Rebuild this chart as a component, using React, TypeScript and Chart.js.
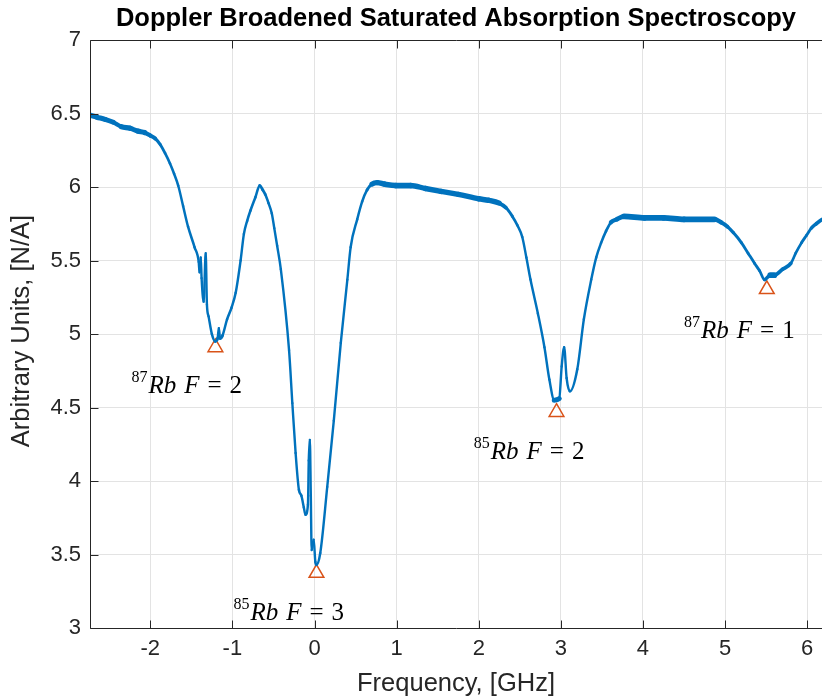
import React, { useEffect, useRef } from 'react';
import { Chart, registerables } from 'chart.js';

Chart.register(...registerables);

const freqGHz = [
  -2.74, -2.65, -2.55, -2.45, -2.35, -2.25, -2.15, -2.07, -2.0, -1.94, -1.88, -1.82,
  -1.76, -1.71, -1.66, -1.6, -1.54, -1.46, -1.41, -1.4, -1.385, -1.375, -1.35, -1.325,
  -1.31, -1.29, -1.25, -1.21, -1.18, -1.165, -1.15, -1.12, -1.065, -1.01, -0.96, -0.9,
  -0.86, -0.82, -0.78, -0.72, -0.667, -0.63, -0.6, -0.56, -0.52, -0.49, -0.455, -0.41,
  -0.31, -0.27, -0.23, -0.19, -0.16, -0.13, -0.11, -0.08, -0.07, -0.057, -0.045, -0.035,
  -0.01, 0.01, 0.024, 0.07, 0.155, 0.235, 0.32, 0.4, 0.44, 0.52, 0.58, 0.64,
  0.7, 0.765, 0.85, 0.99, 1.17, 1.35, 1.54, 1.75, 2.0, 2.12, 2.25, 2.33,
  2.41, 2.47, 2.53, 2.58, 2.63, 2.72, 2.8, 2.86, 2.92, 2.98, 3.01, 3.04,
  3.07, 3.11, 3.2, 3.28, 3.37, 3.43, 3.49, 3.55, 3.61, 3.68, 3.77, 4.02,
  4.25, 4.5, 4.7, 4.87, 4.95, 5.03, 5.1, 5.2, 5.28, 5.36, 5.42, 5.48,
  5.55, 5.6, 5.7, 5.8, 5.86, 5.93, 5.99, 6.05, 6.11, 6.18,
];
const signal = [
  6.49, 6.475, 6.46, 6.44, 6.41, 6.4, 6.38, 6.37, 6.35, 6.33, 6.29, 6.23,
  6.16, 6.09, 6.01, 5.87, 5.73, 5.59, 5.49, 5.42, 5.52, 5.38, 5.22, 5.55,
  5.2, 5.12, 5.0, 4.95, 4.97, 5.04, 4.97, 4.99, 5.1, 5.18, 5.28, 5.5,
  5.68, 5.77, 5.84, 5.93, 6.01, 5.98, 5.95, 5.89, 5.82, 5.72, 5.6, 5.44,
  4.89, 4.53, 4.19, 3.94, 3.9, 3.82, 3.77, 3.84, 4.14, 4.28, 3.9, 3.53,
  3.6, 3.45, 3.43, 3.51, 3.96, 4.41, 4.94, 5.37, 5.59, 5.78, 5.9, 5.98,
  6.02, 6.03, 6.02, 6.01, 6.01, 5.99, 5.97, 5.95, 5.92, 5.91, 5.89, 5.86,
  5.8, 5.74, 5.66, 5.52, 5.37, 5.14, 4.91, 4.69, 4.55, 4.56, 4.78, 4.91,
  4.7, 4.61, 4.76, 5.1, 5.37, 5.52, 5.62, 5.7, 5.76, 5.78, 5.8, 5.79,
  5.79, 5.78, 5.78, 5.78, 5.76, 5.73, 5.69, 5.62, 5.55, 5.48, 5.43, 5.37,
  5.4, 5.4, 5.44, 5.48, 5.55, 5.62, 5.67, 5.72, 5.75, 5.78,
];

// Detected dips (triangle markers)
const peakFreq = [-1.207, 0.024, 2.947, 5.508];
const peakSignal = [4.909, 3.374, 4.468, 5.304];

// Annotation labels
const labelIsotope = ['87', '85', '85', '87'];
const labelF = ['2', '3', '2', '1'];
const labelFreq = [-2.229, -0.988, 1.939, 4.5];
const labelSignal = [4.653, 3.109, 4.204, 5.027];

const titleText = 'Doppler Broadened Saturated Absorption Spectroscopy';
const xLabel = 'Frequency, [GHz]';
const yLabel = 'Arbitrary Units, [N/A]';

const SANS = '"Liberation Sans", Arial, Helvetica, sans-serif';
const SERIF = '"Liberation Serif", "Times New Roman", serif';

const decorPlugin = {
  id: 'decor',
  afterDraw(chart: any) {
    const { ctx, chartArea: a, scales } = chart;
    const xs = scales.x;
    const ys = scales.y;
    ctx.save();
    // axes box and inward ticks
    ctx.strokeStyle = '#262626';
    ctx.lineWidth = 1;
    const L = Math.round(a.left) + 0.5;
    const B = Math.round(a.bottom) + 0.5;
    const T = Math.round(a.top) + 0.5;
    const R = Math.round(a.right) + 0.5;
    ctx.beginPath();
    ctx.moveTo(L, T);
    ctx.lineTo(L, B);
    ctx.lineTo(R, B);
    ctx.moveTo(L, T);
    ctx.lineTo(R, T);
    ctx.stroke();
    ctx.beginPath();
    xs.ticks.forEach((t: any) => {
      const px = Math.round(xs.getPixelForValue(t.value)) + 0.5;
      ctx.moveTo(px, B);
      ctx.lineTo(px, B - 8);
      ctx.moveTo(px, T);
      ctx.lineTo(px, T + 8);
    });
    ys.ticks.forEach((t: any) => {
      const py = Math.round(ys.getPixelForValue(t.value)) + 0.5;
      ctx.moveTo(L, py);
      ctx.lineTo(L + 8, py);
    });
    ctx.stroke();

    // title
    ctx.fillStyle = '#000';
    ctx.font = `bold 25.5px ${SANS}`;
    ctx.textAlign = 'center';
    ctx.textBaseline = 'middle';
    ctx.fillText(titleText, (a.left + a.right) / 2, 19);

    // axis labels
    ctx.fillStyle = '#262626';
    ctx.font = `25.5px ${SANS}`;
    ctx.fillText(xLabel, (a.left + a.right) / 2, 684);
    ctx.save();
    ctx.translate(22, (a.top + a.bottom) / 2 - 3);
    ctx.rotate(-Math.PI / 2);
    ctx.fillText(yLabel, 0, 0);
    ctx.restore();

    // annotations
    ctx.fillStyle = '#000';
    ctx.textAlign = 'left';
    ctx.textBaseline = 'alphabetic';
    for (let i = 0; i < labelFreq.length; i++) {
      let px = xs.getPixelForValue(labelFreq[i]);
      const base = ys.getPixelForValue(labelSignal[i]) + 8;
      ctx.font = `16px ${SERIF}`;
      ctx.fillText(labelIsotope[i], px, base - 11);
      px += ctx.measureText(labelIsotope[i]).width + 1;
      ctx.font = `italic 25px ${SERIF}`;
      ctx.fillText('Rb', px, base);
      px += ctx.measureText('Rb').width + 8;
      ctx.fillText('F', px, base);
      px += ctx.measureText('F').width + 8;
      ctx.font = `25px ${SERIF}`;
      ctx.fillText('=', px, base);
      px += ctx.measureText('=').width + 8;
      ctx.fillText(labelF[i], px, base);
    }
    ctx.restore();
  },
};

export default function App() {
  const ref = useRef<HTMLCanvasElement | null>(null);
  useEffect(() => {
    if (!ref.current) return;
    const curve = freqGHz.map((f, i) => ({ x: f, y: signal[i] }));
    const peaks = peakFreq.map((f, i) => ({ x: f, y: peakSignal[i] }));
    const chart = new Chart(ref.current, {
      type: 'line',
      data: {
        datasets: [
          {
            data: curve,
            borderColor: '#0072BD',
            borderWidth: 2.5,
            pointRadius: 0,
            cubicInterpolationMode: 'monotone',
            borderJoinStyle: 'round',
            borderCapStyle: 'round',
            segment: {
              borderWidth: (c: any) => {
                const dx = Math.abs(c.p1.x - c.p0.x) || 0.001;
                const s = Math.abs(c.p1.y - c.p0.y) / dx;
                return 2.4 + 3.3 / (1 + (s / 0.6) * (s / 0.6));
              },
            },
          } as any,
          {
            data: peaks,
            showLine: false,
            pointStyle: 'triangle',
            pointRadius: 8.5,
            borderColor: '#D95319',
            backgroundColor: 'rgba(0,0,0,0)',
            borderWidth: 1.5,
          } as any,
        ],
      },
      options: {
        responsive: false,
        animation: false,
        devicePixelRatio: 1,
        layout: { autoPadding: false, padding: { top: 40, left: 0, right: 0, bottom: 0 } },
        plugins: {
          legend: { display: false },
          tooltip: { enabled: false },
          title: { display: false },
        },
        scales: {
          x: {
            type: 'linear',
            min: -2.734,
            max: 6.18,
            afterFit: (s: any) => {
              s.height = 70;
              s.paddingLeft = 0;
              s.paddingRight = 0;
            },
            ticks: {
              stepSize: 1,
              includeBounds: false,
              padding: 8,
              color: '#262626',
              font: { family: SANS, size: 22 },
              callback: (v: any) => `${v}`,
            },
            grid: { color: '#e3e3e3', drawTicks: false },
            border: { display: false },
          },
          y: {
            type: 'linear',
            min: 3,
            max: 7,
            afterFit: (s: any) => {
              s.width = 90;
              s.paddingTop = 0;
              s.paddingBottom = 0;
            },
            ticks: {
              stepSize: 0.5,
              includeBounds: false,
              padding: 9,
              color: '#262626',
              font: { family: SANS, size: 22 },
              callback: (v: any) => `${v}`,
            },
            grid: { color: '#e3e3e3', drawTicks: false },
            border: { display: false },
          },
        },
      } as any,
      plugins: [decorPlugin],
    });
    return () => chart.destroy();
  }, []);
  return (
    <div style={{ position: 'absolute', left: 0, top: 0, width: 822, height: 698, background: '#fff' }}>
      <canvas ref={ref} width={822} height={698} style={{ display: 'block', width: 822, height: 698 }} />
    </div>
  );
}
